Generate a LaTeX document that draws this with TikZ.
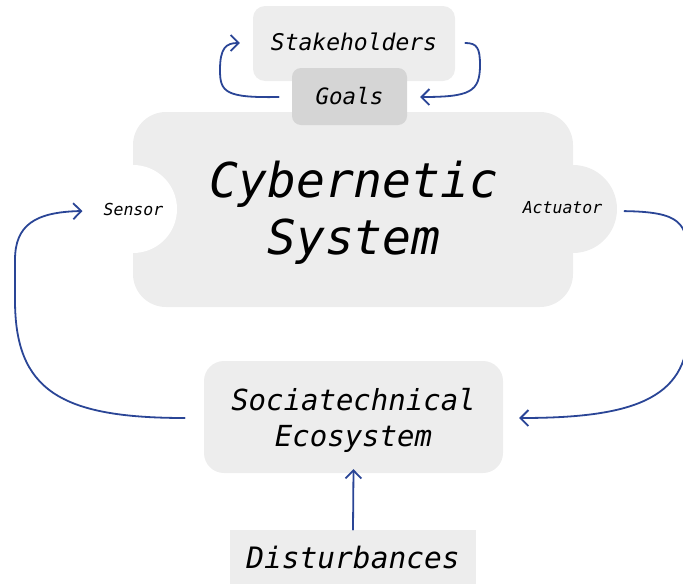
\documentclass[tikz,border=0pt]{standalone}
\usepackage{fontspec}
\setmonofont{DejaVu Sans Mono}
\usetikzlibrary{arrows.meta,calc}
\definecolor{boxgray}{HTML}{EDEDED}
\definecolor{goalgray}{HTML}{D5D5D5}
\definecolor{arrblue}{HTML}{2A4596}
\begin{document}
\begin{tikzpicture}[x=1pt,y=-1pt,
  box/.style={fill=boxgray, inner sep=0pt},
  arr/.style={draw=arrblue, line width=1.8pt, -{Straight Barb[length=8pt,width=16pt]}, line cap=round},
]
\useasboundingbox (0,0) rectangle (683,584);
% Stakeholders
\node[box, rounded corners=12pt, minimum width=202pt, minimum height=75pt,
      text height=15pt, text depth=1pt, font=\ttfamily\itshape\fontsize{23}{27}\selectfont]
      (stake) at (354,43.5) {Stakeholders};
% Cybernetic system body
\fill[boxgray, rounded corners=33pt] (133,112) rectangle (573,307);
\fill[boxgray] (573,209) circle[radius=44];
\fill[white] (133,209) circle[radius=44];
% Goals
\node[fill=goalgray, inner sep=0pt, rounded corners=9pt, minimum width=115pt, minimum height=57pt,
      text height=16pt, text depth=0pt, font=\ttfamily\itshape\fontsize{22.5}{27}\selectfont]
      (goals) at (349.5,96.5) {Goals};
\node[align=center, font=\ttfamily\itshape\fontsize{48}{57}\selectfont]
      (cyber) at (354,213) {Cybernetic\\System};
\node[inner sep=0pt, anchor=base, font=\ttfamily\itshape\fontsize{16.5}{20}\selectfont]
      (sensor) at (133.5,215) {Sensor};
\node[inner sep=0pt, anchor=base, font=\ttfamily\itshape\fontsize{16.5}{20}\selectfont]
      (actuator) at (562.5,213) {Actuator};
% Sociatechnical Ecosystem
\node[box, rounded corners=20pt, minimum width=299pt, minimum height=112pt]
      (eco) at (353.5,417) {};
\node[align=center, font=\ttfamily\itshape\fontsize{29}{36}\selectfont]
      (ecotext) at (353.5,420) {Sociatechnical\\Ecosystem};
% Disturbances
\node[box, minimum width=246pt, minimum height=54pt,
      text height=22pt, text depth=0pt, font=\ttfamily\itshape\fontsize{29.5}{34}\selectfont]
      (dist) at (353,557) {Disturbances};
% connectors
\draw[arr] ($(goals.west)+(-13,0.5)$) .. controls (225,98) and (220,92) .. (220,70)
      .. controls (220,48) and (226,43) .. ($(stake.west)+(-13,-0.5)$);
\draw[arr] ($(stake.east)+(10,-0.5)$) .. controls (477,43) and (480,48) .. (480,65)
      .. controls (480,92) and (470,97) .. ($(goals.east)+(13,0.5)$);
\draw[arr] ($(eco.west)+(-19,1)$) .. controls (60,418) and (15,390) .. (15,300)
      -- (15,260) .. controls (15,225) and (35,212) .. ($(sensor.west)+(-21,2)$);
\draw[arr] ($(actuator.east)+(22,4)$) .. controls (680,212) and (688,222) .. (688,260)
      -- (688,330) .. controls (688,400) and (630,418) .. ($(eco.east)+(16,1)$);
\draw[arr] (dist.north) -- ($(eco.south)+(0,-4)$);
\end{tikzpicture}
\end{document}
